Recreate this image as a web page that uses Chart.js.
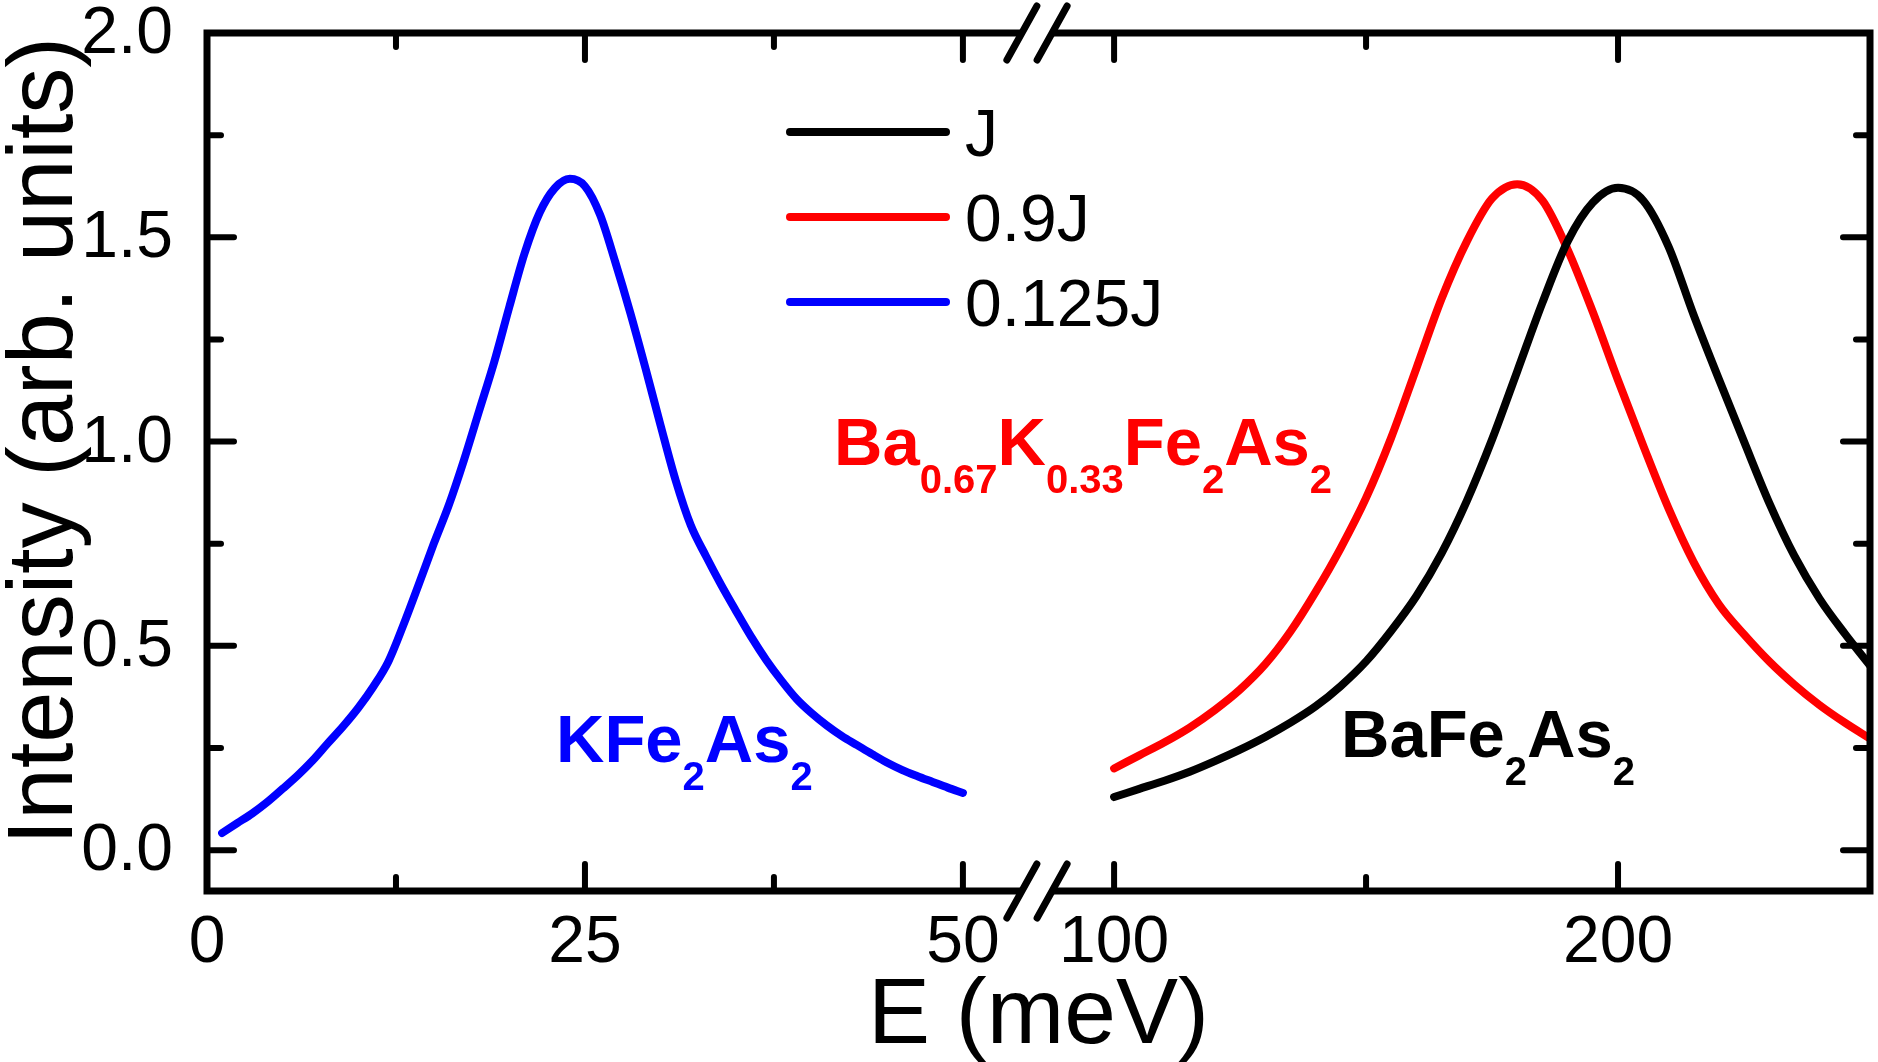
<!DOCTYPE html>
<html>
<head>
<meta charset="utf-8">
<script src="https://cdn.jsdelivr.net/npm/chart.js@4.4.1/dist/chart.umd.min.js"></script>
<style>
    html, body { margin: 0; padding: 0; background: #fff; }
    #wrap { width: 1878px; height: 1062px; position: relative; }
</style>
</head>
<body>
<div id="wrap"><canvas id="chart"></canvas></div>
<script>
// --- data ---
const lowEnergy = [1, 2, 3, 4, 5, 6, 7, 8, 9, 10, 11, 12, 13, 14, 15, 16, 17, 18, 19, 20, 21, 22, 23, 24, 25,
    26, 27, 28, 29, 30, 31, 32, 33, 34, 35, 36, 37, 38, 39, 40, 41, 42, 43, 44, 45, 46, 47, 48, 49, 50];
const kfe2as2 = [0.042, 0.066, 0.090, 0.118, 0.150, 0.183, 0.220, 0.262, 0.303, 0.348, 0.400, 0.462, 0.552, 0.650, 0.750,
    0.845, 0.955, 1.075, 1.195, 1.330, 1.460, 1.560, 1.620, 1.643, 1.625, 1.555, 1.440, 1.315, 1.180, 1.040,
    0.905, 0.795, 0.720, 0.650, 0.585, 0.522, 0.465, 0.415, 0.370, 0.335, 0.305, 0.279, 0.257, 0.235, 0.214,
    0.196, 0.181, 0.167, 0.153, 0.140];

const highEnergy = [100, 105, 110, 115, 120, 125, 130, 135, 140, 145, 150, 155, 160, 165, 170, 175, 180, 185, 190,
    195, 200, 205, 210, 215, 220, 225, 230, 235, 240, 245, 250];
const bafe2as2 = [0.130, 0.150, 0.170, 0.192, 0.218, 0.246, 0.277, 0.312, 0.352, 0.402, 0.462, 0.537, 0.622, 0.727,
    0.855, 1.005, 1.172, 1.340, 1.490, 1.585, 1.621, 1.590, 1.478, 1.310, 1.153, 1.000, 0.850, 0.720, 0.615,
    0.530, 0.452];
const bak = [0.200, 0.232, 0.264, 0.300, 0.343, 0.393, 0.455, 0.535, 0.632, 0.740, 0.862, 1.010, 1.180, 1.350, 1.490,
    1.595, 1.630, 1.590, 1.470, 1.317, 1.150, 0.990, 0.837, 0.705, 0.602, 0.528, 0.462, 0.405, 0.355, 0.312,
    0.273];

const seriesLabels = ['J', '0.9J', '0.125J'];
const seriesColors = ['#000000', '#ff0000', '#0000ff'];

const xMajor = [0, 25, 50, 100, 200];
const xMinor = [12.5, 37.5, 150, 250];
const yMajor = [0, 0.5, 1, 1.5, 2];
const yMinor = [0.25, 0.75, 1.25, 1.75];

// broken axis: 0-55 meV at full scale, 100-250 meV compressed 3x
function toAxis(e) {
    return e <= 75 ? e : 60 + (e - 100) / 3;
}
const GAP = [53.9, 55.9]; // where the frame is cut for the // marks

const FONT = '"Liberation Sans", Arial, sans-serif';

function drawFormula(ctx, parts, x, y, color) {
    ctx.fillStyle = color;
    ctx.textAlign = 'left';
    ctx.textBaseline = 'alphabetic';
    parts.forEach(p => {
        const sub = p[1];
        ctx.font = sub ? 'bold 40px ' + FONT : 'bold 67px ' + FONT;
        ctx.fillText(p[0], x, sub ? y + 28 : y);
        x += ctx.measureText(p[0]).width;
    });
}

const framePlugin = {
    id: 'frame',
    afterDatasetsDraw(chart) {
        const ctx = chart.ctx;
        const ca = chart.chartArea;
        const xs = chart.scales.x, ys = chart.scales.y;
        const g1 = xs.getPixelForValue(GAP[0]), g2 = xs.getPixelForValue(GAP[1]);
        ctx.save();
        ctx.strokeStyle = '#000';
        ctx.lineWidth = 7;
        ctx.lineJoin = 'miter';
        ctx.lineCap = 'butt';
        ctx.beginPath();
        ctx.moveTo(g1, ca.top); ctx.lineTo(ca.left, ca.top); ctx.lineTo(ca.left, ca.bottom); ctx.lineTo(g1, ca.bottom);
        ctx.moveTo(g2, ca.top); ctx.lineTo(ca.right, ca.top); ctx.lineTo(ca.right, ca.bottom); ctx.lineTo(g2, ca.bottom);
        ctx.stroke();

        // break marks
        ctx.lineCap = 'round';
        [ca.top, ca.bottom].forEach(yy => {
            [g1, g2].forEach(xx => {
                ctx.beginPath();
                ctx.moveTo(xx - 15, yy + 27);
                ctx.lineTo(xx + 15, yy - 27);
                ctx.stroke();
            });
        });

        // inward ticks
        ctx.lineWidth = 6;
        const tick = (vals, len) => {
            vals.forEach(v => {
                const px = xs.getPixelForValue(toAxis(v));
                ctx.beginPath();
                ctx.moveTo(px, ca.bottom); ctx.lineTo(px, ca.bottom - len);
                ctx.moveTo(px, ca.top); ctx.lineTo(px, ca.top + len);
                ctx.stroke();
            });
        };
        tick(xMajor, 27);
        tick(xMinor, 14);
        const ytick = (vals, len) => {
            vals.forEach(v => {
                const py = ys.getPixelForValue(v);
                ctx.beginPath();
                ctx.moveTo(ca.left, py); ctx.lineTo(ca.left + len, py);
                ctx.moveTo(ca.right, py); ctx.lineTo(ca.right - len, py);
                ctx.stroke();
            });
        };
        ytick(yMajor, 27);
        ytick(yMinor, 14);

        // tick labels
        ctx.fillStyle = '#000';
        ctx.font = '66px ' + FONT;
        ctx.textBaseline = 'alphabetic';
        ctx.textAlign = 'right';
        yMajor.forEach(v => {
            ctx.fillText(v.toFixed(1), 173, ys.getPixelForValue(v) + 20);
        });
        ctx.textAlign = 'center';
        xMajor.forEach(v => {
            ctx.fillText(String(v), xs.getPixelForValue(toAxis(v)), 962);
        });

        // axis titles
        ctx.font = '93px ' + FONT;
        ctx.fillText('E (meV)', (ca.left + ca.right) / 2, 1043);
        ctx.save();
        ctx.translate(72, 441);
        ctx.rotate(-Math.PI / 2);
        ctx.font = '92px ' + FONT;
        ctx.fillText('Intensity (arb. units)', 0, 0);
        ctx.restore();

        // legend
        const legY = [132, 217, 302];
        seriesLabels.forEach((lab, i) => {
            ctx.strokeStyle = seriesColors[i];
            ctx.lineWidth = 8;
            ctx.lineCap = 'round';
            ctx.beginPath();
            ctx.moveTo(790, legY[i]);
            ctx.lineTo(946, legY[i]);
            ctx.stroke();
            ctx.fillStyle = '#000';
            ctx.font = '66px ' + FONT;
            ctx.textAlign = 'left';
            ctx.fillText(lab, 965, legY[i] + 24);
        });

        // compound labels
        drawFormula(ctx, [['KFe', 0], ['2', 1], ['As', 0], ['2', 1]], 556, 762, '#0000ff');
        drawFormula(ctx, [['Ba', 0], ['0.67', 1], ['K', 0], ['0.33', 1], ['Fe', 0], ['2', 1], ['As', 0], ['2', 1]], 834, 465, '#ff0000');
        drawFormula(ctx, [['BaFe', 0], ['2', 1], ['As', 0], ['2', 1]], 1341, 757, '#000000');
        ctx.restore();
    }
};

const ctx = document.getElementById('chart').getContext('2d');
new Chart(ctx, {
    type: 'line',
    data: {
        datasets: [
            {
                label: seriesLabels[0],
                data: highEnergy.map((e, i) => ({ x: toAxis(e), y: bafe2as2[i] })),
                borderColor: seriesColors[0]
            },
            {
                label: seriesLabels[1],
                data: highEnergy.map((e, i) => ({ x: toAxis(e), y: bak[i] })),
                borderColor: seriesColors[1]
            },
            {
                label: seriesLabels[2],
                data: lowEnergy.map((e, i) => ({ x: toAxis(e), y: kfe2as2[i] })),
                borderColor: seriesColors[2]
            }
        ]
    },
    options: {
        responsive: true,
        maintainAspectRatio: false,
        animation: false,
        layout: { padding: { left: 207, right: 8, top: 33, bottom: 171 } },
        elements: {
            point: { radius: 0 },
            line: {
                borderWidth: 8, borderCapStyle: 'round', borderJoinStyle: 'round', fill: false,
                cubicInterpolationMode: 'monotone'
            }
        },
        plugins: { legend: { display: false }, tooltip: { enabled: false } },
        scales: {
            x: { type: 'linear', min: 0, max: 110, display: false },
            y: { type: 'linear', min: -0.1, max: 2.0, display: false }
        }
    },
    plugins: [framePlugin]
});
</script>
</body>
</html>
